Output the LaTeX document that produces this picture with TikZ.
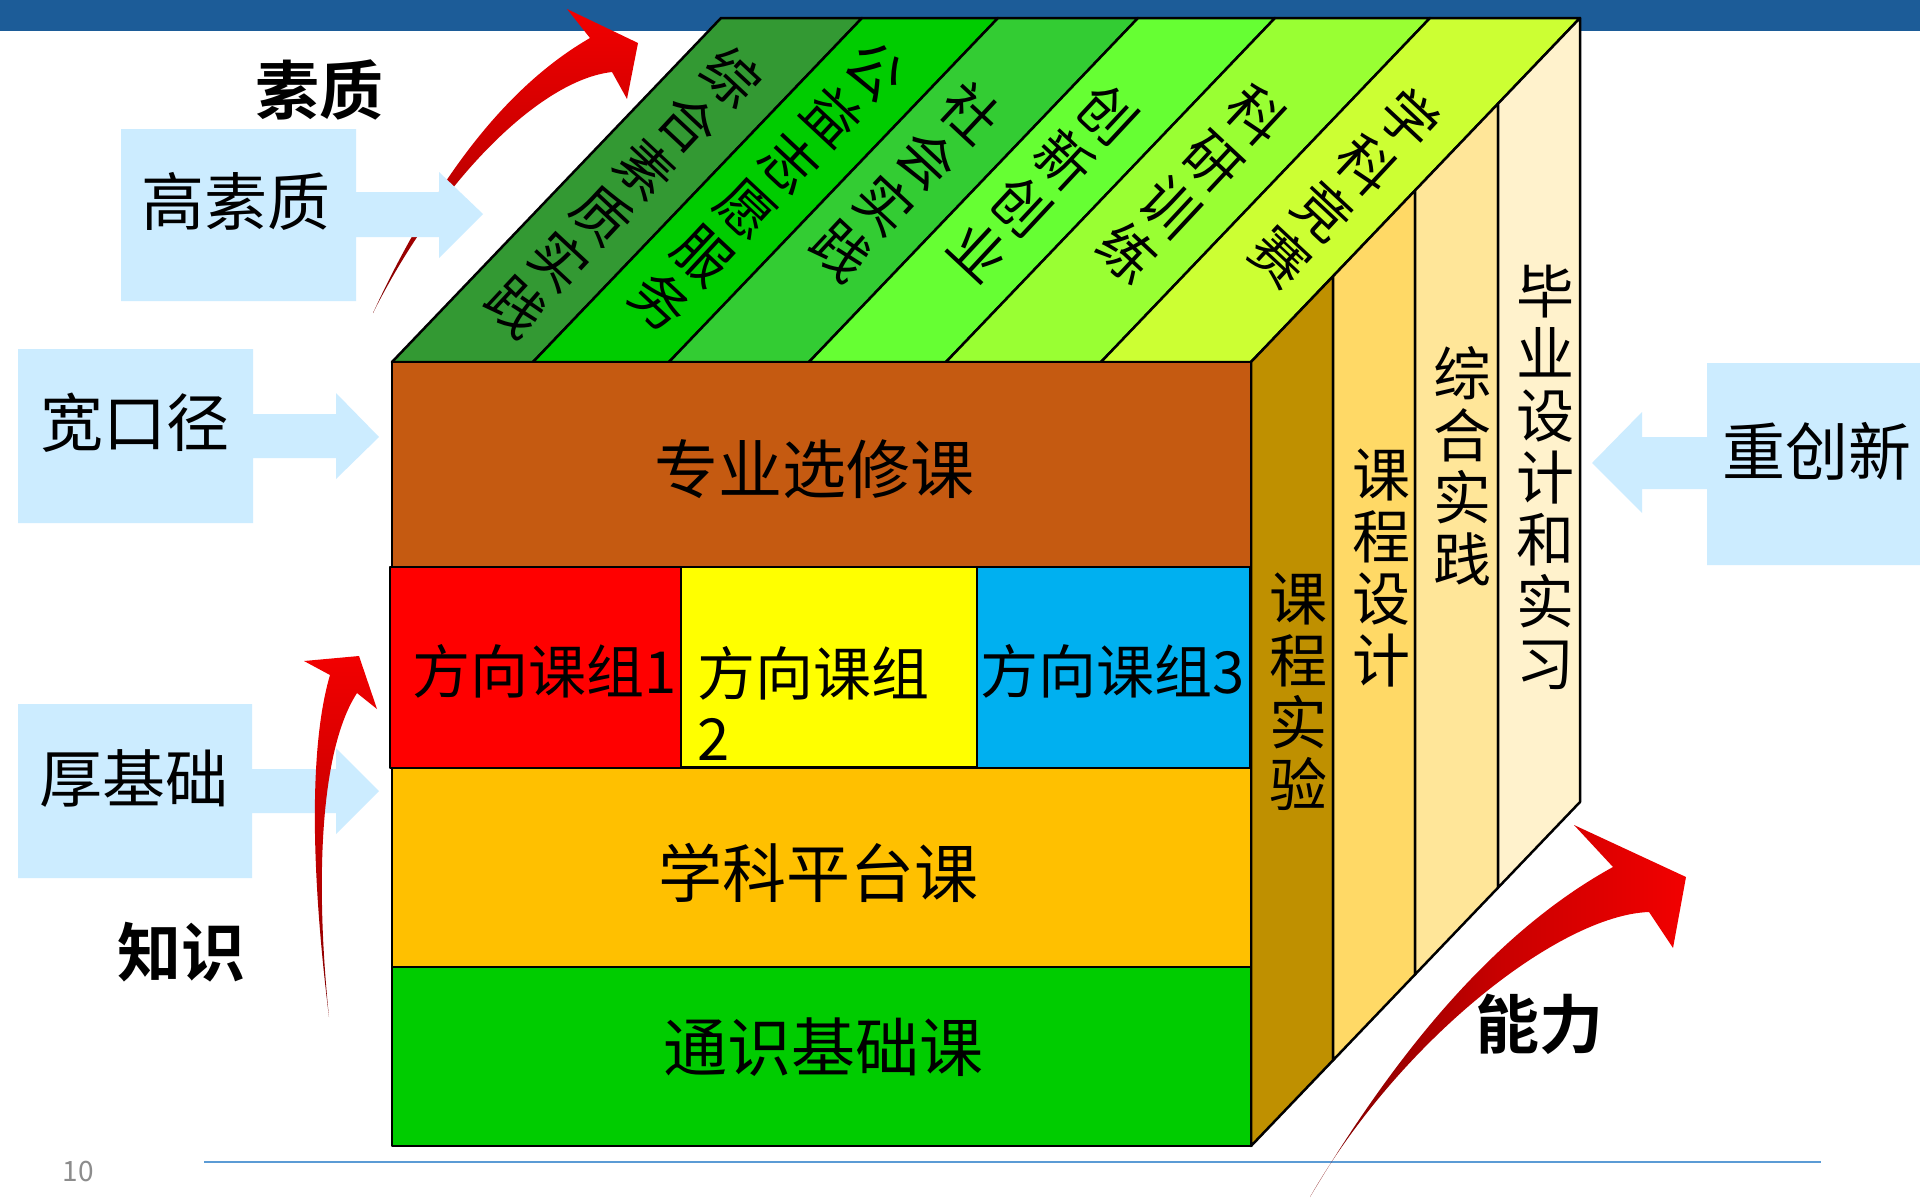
\documentclass[tikz,border=0pt]{standalone}
\usepackage{fontspec}
\setmainfont{Noto Sans CJK SC}[BoldFont={Noto Sans CJK SC Bold}]
\definecolor{topbar}{HTML}{1C5C98}
\definecolor{callout}{HTML}{CCECFF}
\definecolor{rowbrown}{HTML}{C55A11}
\definecolor{grpred}{HTML}{FF0000}
\definecolor{grpyel}{HTML}{FFFF00}
\definecolor{grpblue}{HTML}{00B0F0}
\definecolor{roworange}{HTML}{FFC000}
\definecolor{rowgreen}{HTML}{00CC00}
\definecolor{tA}{HTML}{339933}
\definecolor{tB}{HTML}{00CC00}
\definecolor{tC}{HTML}{33CC33}
\definecolor{tD}{HTML}{66FF33}
\definecolor{tE}{HTML}{99FF33}
\definecolor{tF}{HTML}{CCFF33}
\definecolor{rA}{HTML}{BF9000}
\definecolor{rB}{HTML}{FFD966}
\definecolor{rC}{HTML}{FFE699}
\definecolor{rD}{HTML}{FFF2CC}
\definecolor{arrowhi}{HTML}{F20000}
\definecolor{arrowmid}{HTML}{C80000}
\definecolor{arrowlo}{HTML}{7A0000}
\definecolor{footline}{HTML}{5B9BD5}
\definecolor{pagenum}{HTML}{8C8C8C}
\begin{document}
\begin{tikzpicture}[x=1pt,y=-1pt,
  outl/.style={draw=black,line width=2.5pt,line join=round},
  toptext/.style={font=\fontsize{56}{63}\selectfont,align=center,inner sep=0pt,rotate=-43},
  sidetext/.style={font=\fontsize{58}{62}\selectfont,align=center,inner sep=0pt},
  rowtext/.style={font=\fontsize{64}{66}\selectfont,inner sep=0pt},
  grptext/.style={font=\fontsize{58}{65}\selectfont,inner sep=0pt},
  calltext/.style={font=\fontsize{63}{64}\selectfont,inner sep=0pt},
  boldlbl/.style={font=\fontsize{64}{66}\selectfont\bfseries,inner sep=0pt},
  redarrow/.style={top color=arrowhi,bottom color=arrowlo,middle color=arrowmid}]
\useasboundingbox (0,0) rectangle (1920,1197);
\fill[white] (0,0) rectangle (1920,1197);
\fill[topbar] (0,0) rectangle (1920,31);
% footer
\coordinate (fl) at (204,1162);
\coordinate (fr) at (1821,1162);
\draw[footline,line width=1.2pt] (fl) -- (fr);
\node[text=pagenum,font=\fontsize{28}{30}\selectfont,inner sep=0pt] (page) at (78,1172) {10};

% red arrow (suzhi), under callout
\shade[redarrow]
 (373,313) .. controls (430,190) and (500,90) .. (590,38) -- (567,9) -- (638,43) -- (627,99) -- (612,72)
 .. controls (540,80) and (440,180) .. (373,313) -- cycle;

% callouts
\fill[callout] (121,129) -- (356,129) -- (356,192) -- (439,192) -- (439,172) -- (483,214) -- (439,258) -- (439,237) -- (356,237) -- (356,301) -- (121,301) -- cycle;
\node[calltext] (gao) at (236,201) {高素质};
\fill[callout] (18,349) -- (253,349) -- (253,414) -- (336,414) -- (336,393) -- (379,437) -- (336,479) -- (336,458) -- (253,458) -- (253,523) -- (18,523) -- cycle;
\node[calltext] (kuan) at (135,423) {宽口径};
\fill[callout] (18,704) -- (252,704) -- (252,769) -- (336,769) -- (336,748) -- (379,791) -- (336,834) -- (336,813) -- (252,813) -- (252,878) -- (18,878) -- cycle;
\node[calltext] (hou) at (134,778) {厚基础};
\fill[callout] (1920,363) -- (1707,363) -- (1707,437) -- (1642,437) -- (1642,412) -- (1592,463) -- (1642,513) -- (1642,489) -- (1707,489) -- (1707,565) -- (1920,565) -- cycle;
\node[calltext] (zhong) at (1817,451) {重创新};

% top face strips
\filldraw[outl,fill=tA] (392,362) -- (533,362) -- (862,18) -- (721,18) -- cycle;
\filldraw[outl,fill=tB] (533,362) -- (669,362) -- (998,18) -- (862,18) -- cycle;
\filldraw[outl,fill=tC] (669,362) -- (809,362) -- (1138,18) -- (998,18) -- cycle;
\filldraw[outl,fill=tD] (809,362) -- (946,362) -- (1275,18) -- (1138,18) -- cycle;
\filldraw[outl,fill=tE] (946,362) -- (1101,362) -- (1430,18) -- (1275,18) -- cycle;
\filldraw[outl,fill=tF] (1101,362) -- (1251,362) -- (1580,18) -- (1430,18) -- cycle;
\node[toptext] (t1) at (624,192) {综\\合\\素\\质\\实\\践};
\node[toptext] (t2) at (768,186) {公\\益\\志\\愿\\服\\务};
\node[toptext] (t3) at (906,182) {社\\会\\实\\践};
\node[toptext] (t4) at (1044,182) {创\\新\\创\\业};
\node[toptext] (t5) at (1192,184) {科\\研\\训\\练};
\node[toptext] (t6) at (1345,188) {学\\科\\竞\\赛};

% right face strips
\filldraw[outl,fill=rA] (1251,362) -- (1333,276.3) -- (1333,1060.3) -- (1251,1146) -- cycle;
\filldraw[outl,fill=rB] (1333,276.3) -- (1415,190.5) -- (1415,974.5) -- (1333,1060.3) -- cycle;
\filldraw[outl,fill=rC] (1415,190.5) -- (1498,103.7) -- (1498,887.7) -- (1415,974.5) -- cycle;
\filldraw[outl,fill=rD] (1498,103.7) -- (1580,18) -- (1580,802) -- (1498,887.7) -- cycle;
\node[sidetext] (s1) at (1298,692) {课\\程\\实\\验};
\node[sidetext] (s2) at (1381,568) {课\\程\\设\\计};
\node[sidetext] (s3) at (1462,466) {综\\合\\实\\践};
\node[sidetext] (s4) at (1545,477) {毕\\业\\设\\计\\和\\实\\习};

% front face rows
\filldraw[outl,fill=rowbrown] (392,362) rectangle (1251,567);
\filldraw[outl,fill=grpred] (390,567) rectangle (681,768);
\filldraw[outl,fill=grpyel] (681,567) rectangle (977,767);
\filldraw[outl,fill=grpblue] (977,567) rectangle (1250,768);
\filldraw[outl,fill=roworange] (392,768) rectangle (1251,967);
\filldraw[outl,fill=rowgreen] (392,967) rectangle (1251,1146);
\node[rowtext] (r1) at (814,469) {专业选修课};
\node[grptext] (g1) at (545,671) {方向课组1};
\node[grptext,align=left,anchor=north west] (g2) at (697,646) {方向课组\\2};
\node[grptext] (g3) at (1113,671) {方向课组3};
\node[rowtext] (r3) at (818,873) {学科平台课};
\node[rowtext] (r4) at (823,1047) {通识基础课};

% red arrow (zhishi)
\shade[redarrow]
 (329,1017) .. controls (312,880) and (308,750) .. (330,675) -- (304,661) -- (359,656) -- (377,709) -- (357,693)
 .. controls (320,750) and (315,880) .. (329,1017) -- cycle;
% red arrow (nengli)
\shade[left color=arrowlo,right color=arrowhi,middle color=arrowmid]
 (1310,1197) .. controls (1380,1080) and (1480,940) .. (1613,867) -- (1574,825) -- (1686,877) -- (1673,948) -- (1649,912)
 .. controls (1560,915) and (1400,1040) .. (1310,1197) -- cycle;

% bold labels
\node[boldlbl] (suzhi) at (319,90) {素质};
\node[boldlbl] (zhishi) at (181,952) {知识};
\node[boldlbl] (nengli) at (1539,1024) {能力};
\end{tikzpicture}
\end{document}
